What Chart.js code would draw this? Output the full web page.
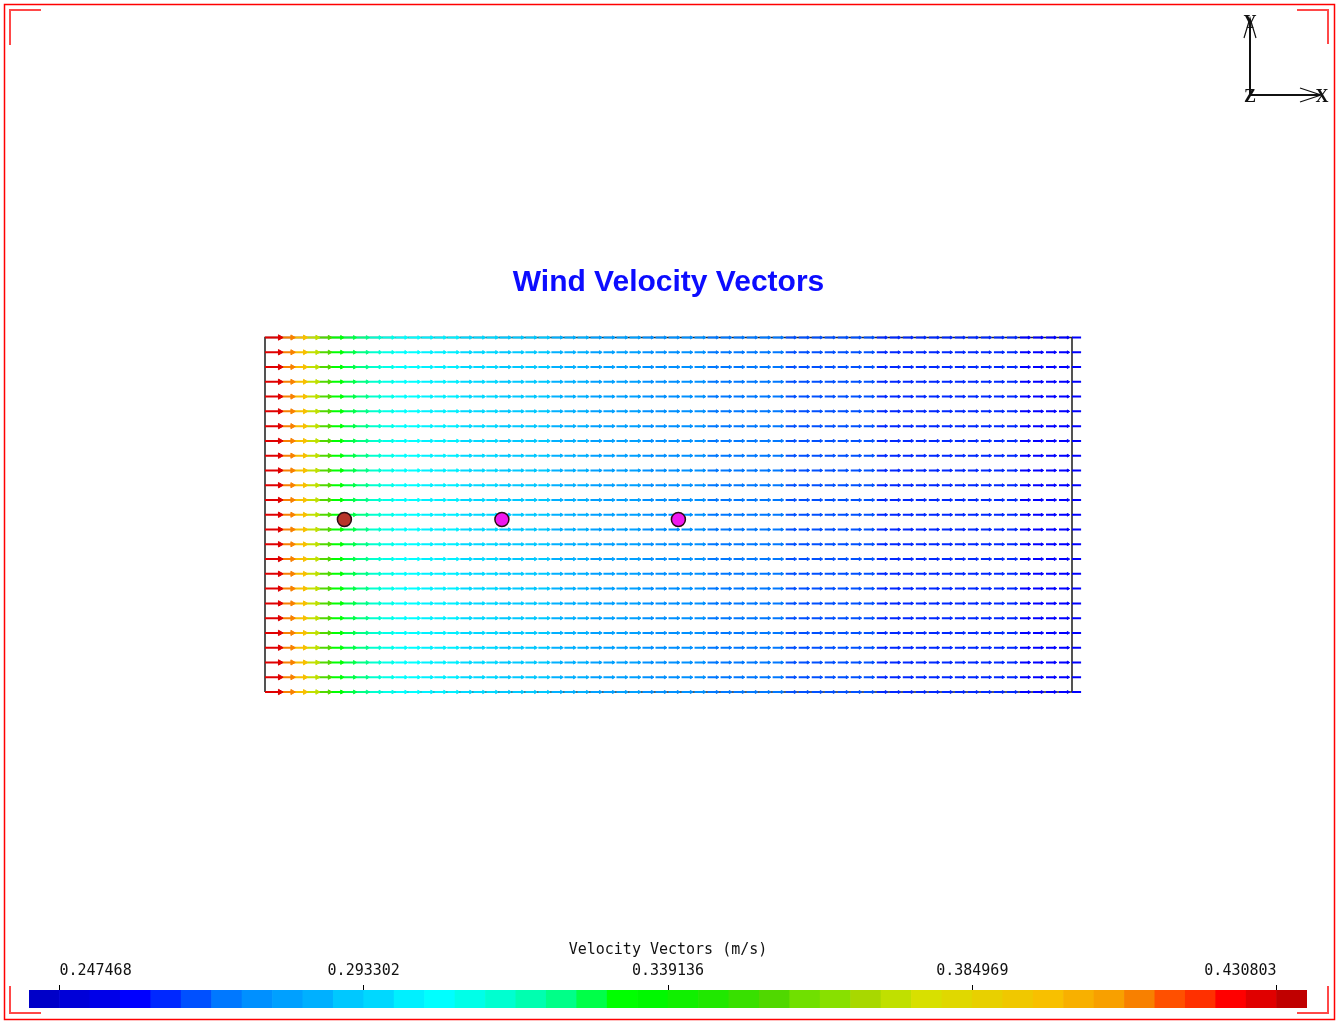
<!DOCTYPE html>
<html>
<head>
<meta charset="utf-8">
<title>Wind Velocity Vectors</title>
<script src="https://cdn.jsdelivr.net/npm/chart.js@4.4.1/dist/chart.umd.min.js"></script>
<style>
  html, body { margin: 0; padding: 0; background: #ffffff; }
  #wrap { position: relative; width: 1341px; height: 1023px; overflow: hidden; }
  #field { position: absolute; left: 0; top: 0; }
  #legendBar { position: absolute; left: 0; top: 930px; }
</style>
</head>
<body>
<div id="wrap">
  <canvas id="field" width="1341" height="1023"></canvas>
  <canvas id="legendBar" width="1341" height="93"></canvas>
</div>
<script>
// ---- Mesh: cell-centre stations along the flow (m) and row heights (m) ----
const cellX = [
  0, 0.5, 1, 1.5, 2, 2.5, 3, 3.5, 4, 4.5,
  5, 5.5, 6, 6.5, 7, 7.5, 8, 8.5, 9, 9.5,
  10, 10.5, 11, 11.5, 12, 12.5, 13, 13.5, 14, 14.5,
  15, 15.5, 16, 16.5, 17, 17.5, 18, 18.5, 19, 19.5,
  20, 20.5, 21, 21.5, 22, 22.5, 23, 23.5, 24, 24.5,
  25, 25.5, 26, 26.5, 27, 27.5, 28, 28.5, 29, 29.5,
  30, 30.5, 31
];
const rowsY = [
  0, 0.5, 1, 1.5, 2, 2.5, 3, 3.5, 4, 4.5, 5, 5.5, 6,
  6.5, 7, 7.5, 8, 8.5, 9, 9.5, 10, 10.5, 11, 11.5, 12
];
const domainX = [0, 31];
const domainY = [0, 12];

// ---- Velocity magnitude at each station (m/s), uniform across the rows ----
const speeds = [
  0.4285, 0.4100, 0.3960, 0.3750, 0.3560, 0.3345, 0.3280, 0.3220, 0.3130, 0.3085,
  0.3055, 0.3035, 0.3015, 0.3000, 0.2985, 0.2972, 0.2960, 0.2945, 0.2928, 0.2913,
  0.2900, 0.2888, 0.2878, 0.2866, 0.2852, 0.2840, 0.2828, 0.2817, 0.2806, 0.2795,
  0.2785, 0.2775, 0.2765, 0.2755, 0.2745, 0.2737, 0.2729, 0.2721, 0.2713, 0.2705,
  0.2697, 0.2690, 0.2684, 0.2678, 0.2672, 0.2667, 0.2662, 0.2657, 0.2652, 0.2647,
  0.2643, 0.2639, 0.2635, 0.2631, 0.2627, 0.2623, 0.2619, 0.2615, 0.2612, 0.2608,
  0.2605, 0.2601, 0.2598
];

// ---- Turbine positions (m) ----
const turbineX = [3.05, 9.1, 15.88];
const turbineY = [5.84, 5.84, 5.84];

// ---- Colour legend ----
const tickValues = [0.247468, 0.293302, 0.339136, 0.384969, 0.430803];
const tickLabels = ['0.247468', '0.293302', '0.339136', '0.384969', '0.430803'];
const legendTitle = 'Velocity Vectors (m/s)';
const chartTitle = 'Wind Velocity Vectors';

// Styles
const bandColors = [
  '#0000c8', '#0000d8', '#0000e8', '#0000ff', '#0028ff', '#0050ff', '#0078ff', '#0090ff', '#00a0ff', '#00b0ff',
  '#00c8ff', '#00d8ff', '#00f0ff', '#00ffff', '#00ffe8', '#00ffd0', '#00ffb0', '#00ff88', '#00ff48', '#00ff00',
  '#00f800', '#10f000', '#20e800', '#38e000', '#50d800', '#70e000', '#88e000', '#a8d800', '#c0e000', '#d8e000',
  '#e0d800', '#e8d000', '#f0c800', '#f8c000', '#f8b000', '#f8a000', '#f88000', '#ff5000', '#ff3000', '#ff0000',
  '#e00000', '#c00000'
];
const turbineFill = ['#b8352a', '#f018f0', '#f018f0'];
const arrowScale = 1.345;          // arrow length in metres per m/s

const legendMin = tickValues[0];
const legendMax = tickValues[tickValues.length - 1];
const bandWidth = (legendMax - legendMin) / 40;

function bandIndex(v) {
  const k = Math.floor((v - legendMin) / bandWidth) + 1;
  return Math.max(0, Math.min(bandColors.length - 1, k));
}
function speedColor(v) { return bandColors[bandIndex(v)]; }
function headSize(v) { return 1.6 + (v - 0.26) * 9; }

// One dataset per station: every row gets an arrow from the cell centre
const vectorSets = cellX.map((x0, i) => {
  const v = speeds[i];
  const col = speedColor(v);
  const pts = [];
  rowsY.forEach(y => {
    pts.push({ x: x0, y: y });
    pts.push({ x: x0 + arrowScale * v, y: y });
    pts.push({ x: NaN, y: NaN });
  });
  return {
    data: pts,
    showLine: true,
    spanGaps: false,
    borderColor: col,
    backgroundColor: col,
    borderWidth: 2,
    pointStyle: 'triangle',
    pointRotation: 90,
    pointRadius: ctx => (ctx.dataIndex % 3 === 1 ? headSize(v) : 0),
    pointBorderColor: col,
    pointBackgroundColor: col,
    pointBorderWidth: 1,
    pointHoverRadius: 0,
    clip: false,
    order: 2
  };
});

const domainSet = {
  data: [
    { x: domainX[0], y: domainY[0] }, { x: domainX[0], y: domainY[1] },
    { x: domainX[1], y: domainY[1] }, { x: domainX[1], y: domainY[0] },
    { x: domainX[0], y: domainY[0] }
  ],
  showLine: true,
  borderColor: '#2a2a2a',
  borderWidth: 1.6,
  pointRadius: 0,
  clip: false,
  order: 3
};

const turbineSet = {
  data: turbineX.map((x, i) => ({ x: x, y: turbineY[i] })),
  showLine: false,
  pointStyle: 'circle',
  pointRadius: 7,
  pointHoverRadius: 7,
  pointBackgroundColor: turbineFill,
  pointBorderColor: '#2b0c14',
  pointBorderWidth: 1.5,
  clip: false,
  order: 0
};

// Viewport frame, corner marks and the axis triad
const framePlugin = {
  id: 'frame',
  afterDraw(chart) {
    const c = chart.ctx;
    c.save();
    c.strokeStyle = '#ff0000';
    c.lineWidth = 1.5;
    c.strokeRect(4.5, 4.5, 1330, 1015);
    c.strokeStyle = '#ff4848';
    c.lineWidth = 2;
    c.beginPath();
    c.moveTo(10, 45); c.lineTo(10, 10); c.lineTo(41, 10);
    c.moveTo(1297, 10); c.lineTo(1328, 10); c.lineTo(1328, 44);
    c.moveTo(10, 986); c.lineTo(10, 1013); c.lineTo(41, 1013);
    c.moveTo(1297, 1013); c.lineTo(1328, 1013); c.lineTo(1328, 986);
    c.stroke();

    c.strokeStyle = '#111111';
    c.lineWidth = 2;
    c.beginPath();
    c.moveTo(1250, 20); c.lineTo(1250, 95); c.lineTo(1320, 95);
    c.stroke();
    c.lineWidth = 1.2;
    c.beginPath();
    c.moveTo(1244, 38); c.lineTo(1250, 18); c.lineTo(1256, 38);
    c.moveTo(1300, 88); c.lineTo(1321, 95); c.lineTo(1300, 102);
    c.stroke();
    c.fillStyle = '#111111';
    c.font = 'bold 18px "Liberation Serif", serif';
    c.textAlign = 'center';
    c.textBaseline = 'middle';
    c.fillText('Y', 1250, 23);
    c.fillText('X', 1322, 97);
    c.fillText('Z', 1250, 97);
    c.restore();
  }
};

new Chart(document.getElementById('field'), {
  type: 'scatter',
  data: { datasets: [domainSet].concat(vectorSets, [turbineSet]) },
  options: {
    responsive: false,
    animation: false,
    devicePixelRatio: 1,
    events: [],
    layout: { padding: { left: 265, right: 269, top: 265, bottom: 331 } },
    elements: { line: { tension: 0 } },
    plugins: {
      legend: { display: false },
      tooltip: { enabled: false },
      title: {
        display: true,
        text: chartTitle,
        color: '#0c0cff',
        font: { family: '"Liberation Sans", Arial, sans-serif', size: 30, weight: 'bold', lineHeight: 1.2 },
        padding: { top: 0, bottom: 36.5 }
      }
    },
    scales: {
      x: { type: 'linear', min: domainX[0], max: domainX[1], display: false },
      y: { type: 'linear', min: domainY[0], max: domainY[1], display: false }
    }
  },
  plugins: [framePlugin]
});

// Colour legend: one floating bar per colour band
const bandData = bandColors.map((c, k) => ({
  y: 'band',
  x: [legendMin + (k - 1) * bandWidth, legendMin + k * bandWidth]
}));

new Chart(document.getElementById('legendBar'), {
  type: 'bar',
  data: {
    labels: ['band'],
    datasets: [{
      data: bandData,
      backgroundColor: bandColors,
      borderWidth: 0,
      barPercentage: 1,
      categoryPercentage: 1
    }]
  },
  options: {
    indexAxis: 'y',
    responsive: false,
    animation: false,
    devicePixelRatio: 1,
    events: [],
    layout: { padding: { left: 29, right: 34, top: 0, bottom: 15 } },
    plugins: { legend: { display: false }, tooltip: { enabled: false } },
    scales: {
      x: {
        type: 'linear',
        position: 'top',
        min: legendMin - bandWidth,
        max: legendMax + bandWidth,
        afterBuildTicks: s => { s.ticks = tickValues.map(v => ({ value: v })); },
        afterFit: s => { s.height = 60; },
        ticks: {
          callback: (v, i) => tickLabels[i],
          align: 'inner',
          autoSkip: false,
          maxRotation: 0,
          padding: 5,
          color: '#111111',
          font: { family: '"DejaVu Sans Mono", monospace', size: 15, lineHeight: 1.2 }
        },
        grid: { drawOnChartArea: false, drawTicks: true, tickLength: 5, color: '#000000', lineWidth: 1 },
        border: { display: false },
        title: {
          display: true,
          text: legendTitle,
          color: '#111111',
          font: { family: '"DejaVu Sans Mono", monospace', size: 15, lineHeight: 1.2 },
          padding: { top: 11, bottom: 2 }
        }
      },
      y: { display: false }
    }
  }
});
</script>
</body>
</html>
